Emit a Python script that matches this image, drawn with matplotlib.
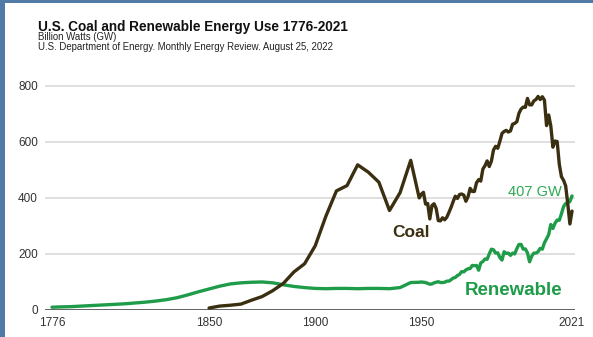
import matplotlib
matplotlib.use("Agg")
import matplotlib.pyplot as plt
from matplotlib.patches import Rectangle

# ---- data (billion watts, GW) ----
coal_years = [1850, 1855, 1860, 1865, 1870, 1875, 1880, 1885, 1890, 1895,
              1900, 1905, 1910, 1915, 1920, 1925, 1930, 1935, 1940, 1945] + list(range(1949, 2022))
coal_gw = [7, 14, 17, 21, 35, 48, 69, 95, 136, 165,
           229, 334, 425, 444, 518, 492, 456, 355, 419, 534,
           # 1949-2021
           400, 413, 420, 378, 380, 325, 373, 379, 362, 319,
           318, 329, 322, 331, 348, 366, 387, 406, 398, 412,
           414, 410, 388, 404, 434, 423, 423, 454, 465, 460,
           503, 515, 532, 512, 531, 571, 584, 577, 602, 630,
           637, 641, 635, 639, 663, 666, 672, 702, 717, 724,
           723, 755, 732, 732, 746, 751, 762, 751, 761, 749,
           658, 696, 657, 581, 603, 601, 520, 476, 463, 443,
           378, 307, 353]

renew_years = [1776, 1780, 1785, 1790, 1795, 1800, 1805, 1810, 1815, 1820,
               1825, 1830, 1835, 1840, 1845, 1850, 1855, 1860, 1865, 1870,
               1875, 1880, 1885, 1890, 1895, 1900, 1905, 1910, 1915, 1920,
               1925, 1930, 1935, 1940, 1945] + list(range(1949, 2022))
renew_gw = [10, 11, 12, 14, 16, 18, 20, 22, 25, 28,
            32, 37, 44, 54, 65, 75, 85, 93, 97, 99,
            100, 97, 90, 84, 80, 77, 76, 77, 77, 76,
            77, 77, 76, 80, 98,
            # 1949-2021
            99, 100, 99, 98, 95, 92, 93, 97, 99, 101,
            98, 98, 99, 103, 103, 108, 114, 116, 123, 127,
            137, 136, 143, 147, 148, 159, 158, 159, 142, 168,
            173, 182, 181, 200, 217, 215, 203, 204, 187, 178,
            208, 202, 203, 195, 203, 200, 219, 234, 234, 217,
            218, 204, 172, 192, 203, 203, 208, 220, 217, 240,
            254, 269, 305, 291, 310, 321, 320, 343, 369, 380,
            383, 387, 407]

x_ticks = [1776, 1850, 1900, 1950, 2021]
y_ticks = [0, 200, 400, 600, 800]

COAL = "#3b2f12"
GREEN = "#1f9c49"
FONT = ["Liberation Sans", "DejaVu Sans"]

plt.rcParams["font.family"] = FONT

fig = plt.figure(figsize=(5.93, 3.37), dpi=100)
fig.patch.set_facecolor("white")

# blue frame strips along the left and top edges
fig.patches.append(Rectangle((0, 0), 5 / 593, 1, transform=fig.transFigure,
                             facecolor="#4f7ba6", edgecolor="none", zorder=0))
fig.patches.append(Rectangle((0, 1 - 3 / 337), 1, 3 / 337, transform=fig.transFigure,
                             facecolor="#4f7ba6", edgecolor="none", zorder=0))

ax = fig.add_axes([45 / 593, 1 - 310 / 337, 530 / 593, (310 - 83) / 337])
ax.set_xlim(1772.7, 2022.4)
ax.set_ylim(0, 810)

for v in y_ticks[1:]:
    ax.axhline(v, color="#dcdcdc", lw=1.3, zorder=1)
ax.axhline(0, color="#555555", lw=1.3, zorder=2)

ax.plot(renew_years, renew_gw, color=GREEN, lw=2.4, zorder=3,
        solid_joinstyle="round", solid_capstyle="round")
ax.plot(coal_years, coal_gw, color=COAL, lw=2.4, zorder=4,
        solid_joinstyle="round", solid_capstyle="round")

for s in ax.spines.values():
    s.set_visible(False)
ax.set_xticks(x_ticks)
ax.set_xticklabels([str(t) for t in x_ticks])
ax.set_yticks(y_ticks)
ax.set_yticklabels([str(t) for t in y_ticks])
ax.tick_params(axis="both", length=0, labelsize=8.5, colors="#333333")
ax.tick_params(axis="x", pad=5)
ax.tick_params(axis="y", pad=5)

ax.text(1945.2, 278, "Coal", color=COAL, fontsize=12.5, fontweight="bold",
        ha="center", va="center", zorder=5)
ax.text(1993.4, 71, "Renewable", color=GREEN, fontsize=13.5, fontweight="bold",
        ha="center", va="center", zorder=5)
ax.text(2003.4, 421, f"{renew_gw[-1]} GW", color="#2ea855", fontsize=10.5,
        ha="center", va="center", zorder=5)

fig.text(38 / 593, 1 - 31 / 337, "U.S. Coal and Renewable Energy Use 1776-2021",
         fontsize=9.8, fontweight="bold", color="#111111", va="baseline")
fig.text(38 / 593, 1 - 40.5 / 337, "Billion Watts (GW)",
         fontsize=6.9, color="#222222", va="baseline")
fig.text(38 / 593, 1 - 50 / 337,
         "U.S. Department of Energy. Monthly Energy Review. August 25, 2022",
         fontsize=6.9, color="#222222", va="baseline")

fig.savefig("out.png", dpi=100)
